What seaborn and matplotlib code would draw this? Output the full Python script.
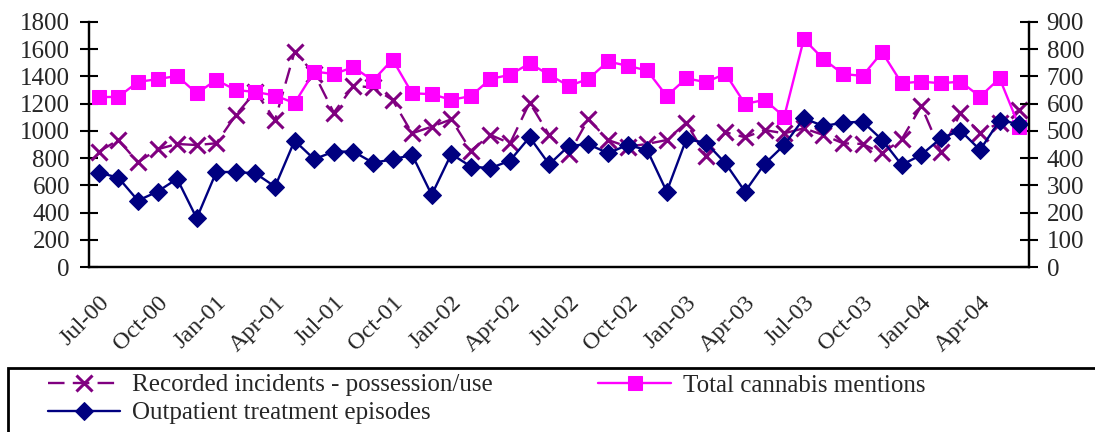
import numpy as np
import pandas as pd
import matplotlib
matplotlib.use("Agg")
import matplotlib.pyplot as plt
import matplotlib.patches as mpatches
import matplotlib.transforms as mtransforms
import seaborn as sns

months = pd.date_range("2000-07-01", periods=48, freq="MS")
month_labels = [d.strftime("%b-%y") for d in months]

# Recorded incidents (left axis)
incidents = [847, 933, 769, 865, 904, 896, 909, 1117, 1288, 1080, 1582, 1420,
             1134, 1330, 1320, 1227, 982, 1031, 1085, 855, 970, 909, 1207, 970,
             830, 1087, 933, 884, 904, 933, 1060, 816, 990, 953, 1006, 982,
             1019, 970, 909, 904, 835, 938, 1183, 847, 1129, 987, 1060, 1153]
# Total cannabis mentions (right axis)
mentions = [624, 625, 680, 690, 702, 638, 687, 650, 643, 630, 602, 718,
            709, 734, 685, 762, 638, 635, 614, 628, 691, 706, 748, 706,
            665, 691, 755, 739, 722, 628, 693, 679, 710, 599, 614, 552,
            837, 764, 709, 702, 789, 675, 681, 675, 681, 626, 693, 516]
# Outpatient treatment episodes (right axis)
outpatient = [347, 328, 244, 277, 324, 179, 349, 349, 344, 295, 464, 396,
              424, 424, 383, 395, 412, 265, 415, 369, 363, 391, 477, 377,
              445, 451, 418, 448, 430, 277, 469, 457, 381, 277, 379, 448,
              546, 518, 530, 534, 467, 375, 412, 473, 501, 430, 538, 526]

x = np.arange(len(months))
df = pd.DataFrame({"x": x, "incidents": incidents, "mentions": mentions,
                   "outpatient": outpatient})

sns.set_theme(style="white")
plt.rcParams["font.family"] = ["Liberation Serif", "DejaVu Serif"]
YFS = 18
XFS = 17.5
LFS = 18

fig = plt.figure(figsize=(10.95, 4.32), dpi=100)
ax = fig.add_axes([89/1095, 1-267/432, (1029-89)/1095, (267-22)/432])
ax2 = ax.twinx()

sns.lineplot(data=df, x="x", y="incidents", ax=ax, color="#800080",
             linestyle=(0, (7, 3.5)), linewidth=1.7, marker="x", markersize=11,
             markeredgewidth=2.2, markeredgecolor="#800080",
             label="Recorded incidents - possession/use", legend=False)
sns.lineplot(data=df, x="x", y="mentions", ax=ax2, color="#FF00FF",
             linewidth=1.7, marker="s", markersize=10, markeredgecolor="#FF00FF",
             label="Total cannabis mentions", legend=False)
sns.lineplot(data=df, x="x", y="outpatient", ax=ax2, color="#000080",
             linewidth=1.7, marker="D", markersize=9, markeredgecolor="#000080",
             label="Outpatient treatment episodes", legend=False)

ax.set_xlim(-0.5, len(x) - 0.5)
ax.set_ylim(0, 1800)
ax2.set_ylim(0, 900)
ax.set_yticks(np.arange(0, 1801, 200))
ax2.set_yticks(np.arange(0, 901, 100))
ax.set_xlabel("")
ax.set_ylabel("")
ax2.set_ylabel("")

ax.set_xticks(np.arange(-0.5, len(x), 1.0))
ax.set_xticklabels([])
ax.set_xticks(x[::3], minor=True)
ax.set_xticklabels(month_labels[::3], minor=True, rotation=45, ha="right",
                   rotation_mode="anchor", fontsize=XFS)
shift = mtransforms.ScaledTranslation(-14/100, 0, fig.dpi_scale_trans)
for lab in ax.get_xticklabels(minor=True):
    lab.set_transform(lab.get_transform() + shift)
ax.tick_params(axis="x", which="minor", length=0, pad=18)
ax.tick_params(axis="x", which="major", direction="inout", length=13, width=1.5,
               color="black")
ax.tick_params(axis="y", direction="inout", length=13.5, width=1.5, color="black",
               labelsize=YFS, pad=7)
ax2.tick_params(axis="y", direction="inout", length=13.5, width=1.5, color="black",
                labelsize=YFS, pad=6)
for a in (ax, ax2):
    a.spines["top"].set_visible(False)
    for s in ("left", "right", "bottom"):
        a.spines[s].set_color("black")
        a.spines[s].set_linewidth(1.6)
    a.grid(False)

handles = [ax.get_lines()[0], ax2.get_lines()[1], ax2.get_lines()[0]]
labels = ["Recorded incidents - possession/use", "Outpatient treatment episodes",
          "Total cannabis mentions"]
fig.legend(handles, labels, loc="upper left", bbox_to_anchor=(48/1095, 1-374/432),
           ncol=2, frameon=False, fontsize=LFS, handlelength=2.9,
           handletextpad=0.48, columnspacing=4.2, labelspacing=0.22,
           borderpad=0, borderaxespad=0)
fig.patches.append(mpatches.Rectangle((8/1095, -0.2), 1.2, 0.2 + (432-368)/432,
                                      transform=fig.transFigure, fill=False,
                                      edgecolor="black", linewidth=2))

fig.savefig("out.png", dpi=100)
